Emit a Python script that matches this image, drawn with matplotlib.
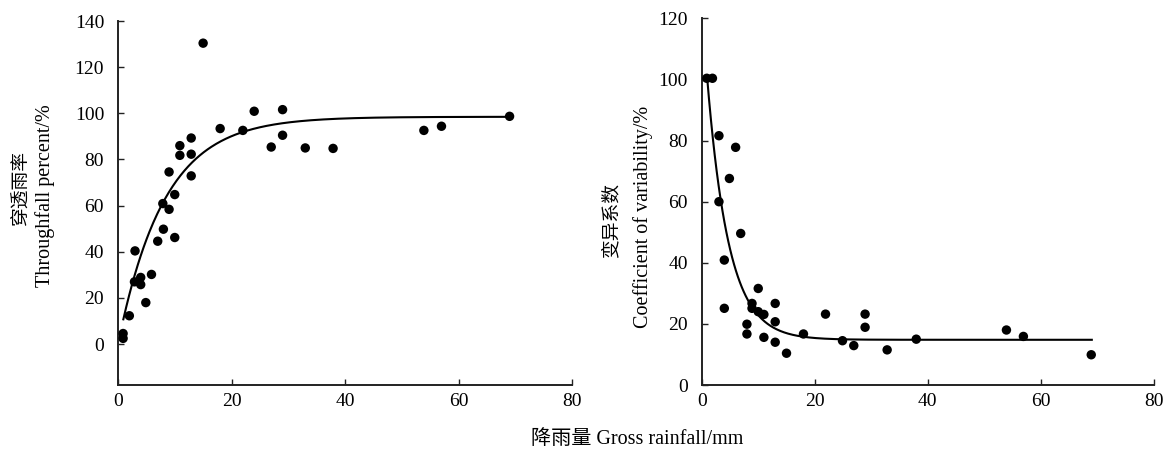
import numpy as np
import matplotlib
matplotlib.use("Agg")
import matplotlib.pyplot as plt

plt.rcParams['font.family'] = ['Liberation Serif', 'Noto Sans CJK SC']

# ---- data ----
tf_x = [0.9, 0.9, 2.0, 3.0, 2.9, 4.0, 4.0, 4.9, 5.9, 7.0, 8.0, 7.9, 9.0, 9.0,
        10.0, 10.0, 10.9, 10.9, 12.9, 12.9, 12.9, 15.0, 18.0, 22.0, 24.0, 27.0,
        29.0, 29.0, 33.0, 37.9, 53.9, 57.0, 69.0]
tf_y = [4.6, 2.5, 12.3, 40.4, 27.0, 28.9, 25.8, 18.0, 30.2, 44.6, 49.8, 60.9,
        58.4, 74.6, 64.8, 46.2, 86.0, 81.8, 89.3, 82.3, 72.9, 130.4, 93.4, 92.6,
        100.9, 85.4, 101.6, 90.5, 85.0, 84.8, 92.6, 94.4, 98.7]

cv_x = [0.9, 1.9, 3.05, 6.0, 4.9, 3.05, 6.9, 4.0, 4.0, 10.0, 8.9, 8.9, 10.0,
        11.0, 13.0, 13.0, 8.0, 8.0, 11.0, 13.0, 15.0, 18.0, 21.9, 24.9, 26.9,
        28.9, 28.9, 32.8, 37.95, 53.9, 56.9, 68.9]
cv_y = [100.4, 100.4, 81.6, 77.8, 67.6, 60.0, 49.6, 40.9, 25.1, 31.6, 26.7,
        25.1, 24.0, 23.1, 26.7, 20.7, 19.9, 16.7, 15.6, 14.0, 10.4, 16.7, 23.2,
        14.5, 12.9, 23.2, 18.9, 11.5, 15.0, 18.0, 15.9, 9.9]

# fitted curve parameters (as drawn in the reference)
tf_fit_a, tf_fit_k = 98.5, 0.123                   # y = a(1 - exp(-k x))
cv_fit_c, cv_fit_b, cv_fit_k = 14.8, 110.5, 0.262  # y = c + b exp(-k x)
fit_x_range = [0.94, 69.0]

x_ticks = [0, 20, 40, 60, 80]
tf_yticks = [0, 20, 40, 60, 80, 100, 120, 140]
cv_yticks = [0, 20, 40, 60, 80, 100, 120]

W, H = 1171, 453
fig = plt.figure(figsize=(W / 100, H / 100), dpi=100)

ax1 = fig.add_axes([118 / W, (H - 385) / H, 454 / W, 364 / H])
ax2 = fig.add_axes([701.7 / W, (H - 385) / H, 452.3 / W, 366.6 / H])

xf = np.linspace(fit_x_range[0], fit_x_range[1], 400)
tf_fit = tf_fit_a * (1 - np.exp(-tf_fit_k * xf))
cv_fit = cv_fit_c + cv_fit_b * np.exp(-cv_fit_k * xf)

for ax, xs, ys, fy, yt, ylim in [
        (ax1, tf_x, tf_y, tf_fit, tf_yticks, (-17.7, 140)),
        (ax2, cv_x, cv_y, cv_fit, cv_yticks, (0, 120))]:
    ax.plot(xf, fy, color='black', lw=1.5, zorder=2)
    ax.scatter(xs, ys, s=46, color='black', edgecolors='none', zorder=3,
               clip_on=False)
    ax.set_xlim(0, 80)
    ax.set_ylim(*ylim)
    ax.set_xticks(x_ticks)
    ax.set_yticks(yt)
    for s in ['top', 'right']:
        ax.spines[s].set_visible(False)
    for s in ['left', 'bottom']:
        ax.spines[s].set_linewidth(1.4)
        ax.spines[s].set_color('#222222')
    ax.tick_params(direction='in', length=4, width=1, colors='#222222',
                   labelsize=14, labelcolor='black')
    ax.tick_params(axis='y', pad=10)
    ax.tick_params(axis='x', pad=6)

def ftext(px, py, s, size):
    fig.text(px / W, 1 - py / H, s, rotation=90, ha='center', va='center',
             fontsize=size)

ftext(21, 189, '穿透雨率', 13.5)
ftext(45, 196, 'Throughfall percent/%', 14.5)
ftext(612, 220, '变异系数', 13.5)
ftext(643, 217, 'Coefficient of variability/%', 14.5)

fig.text(637 / W, 1 - 440 / H, '降雨量 Gross rainfall/mm', ha='center',
         va='center', fontsize=14.5)

fig.savefig('out.png', dpi=100)
